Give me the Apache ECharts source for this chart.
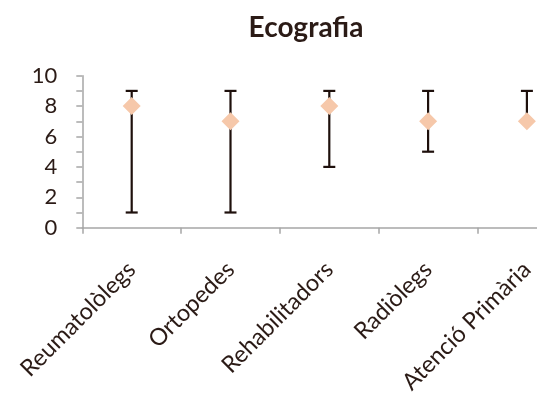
<!DOCTYPE html>
<html>
<head>
<meta charset="utf-8">
<script src="https://cdn.jsdelivr.net/npm/echarts@6/dist/echarts.min.js"></script>
<style>html,body{margin:0;padding:0;background:#fff;}#c{width:537px;height:400px;}</style>
</head>
<body>
<div id="c"></div>
<script>
var categories = ['Reumatolòlegs', 'Ortopedes', 'Rehabilitadors', 'Radiòlegs', 'Atenció Primària'];
var meanValues = [8, 7, 8, 7, 7];
var minValues = [1, 1, 4, 5, 7];
var maxValues = [9, 9, 9, 9, 9];
var yTicks = [0, 2, 4, 6, 8, 10];

var textColor = '#2b1b16';
var fontFam = 'Lato, "Open Sans", sans-serif';
var errData = categories.map(function (c, i) { return [i, minValues[i], maxValues[i]]; });

var chart = echarts.init(document.getElementById('c'));
chart.setOption({
  animation: false,
  title: {
    text: 'Ecografia', left: 301, top: 9, textAlign: 'center',
    textStyle: { fontFamily: fontFam, fontSize: 28, fontWeight: 'bold', color: textColor }
  },
  grid: { left: 82.3, top: 75.7, bottom: 172.3, right: -39.3, containLabel: false, outerBoundsMode: 'none' },
  xAxis: {
    type: 'category', data: categories, boundaryGap: true,
    axisLine: { lineStyle: { color: '#a6a6a6', width: 1.5 } },
    axisTick: { show: true, length: 6, lineStyle: { color: '#a6a6a6', width: 1.5 }, alignWithLabel: false },
    axisLabel: { rotate: 45, interval: 0, margin: 38, fontFamily: fontFam, fontSize: 23.5, color: textColor, hideOverlap: false }
  },
  yAxis: {
    type: 'value', min: 0, max: 10, interval: 1,
    splitLine: { show: false },
    axisLine: { show: true, lineStyle: { color: '#a6a6a6', width: 1.5 } },
    axisTick: { show: true, length: 6, lineStyle: { color: '#a6a6a6', width: 1.5 } },
    axisLabel: {
      margin: 25, fontFamily: fontFam, fontSize: 22, color: textColor,
      formatter: function (v) { return yTicks.indexOf(v) >= 0 ? String(v) : ''; }
    }
  },
  series: [
    {
      type: 'custom', data: errData, z: 2, clip: false,
      renderItem: function (params, api) {
        var x = api.value(0);
        var lo = api.coord([x, api.value(1)]);
        var hi = api.coord([x, api.value(2)]);
        var hw = 6;
        var st = { stroke: '#1e100c', lineWidth: 2.2 };
        return {
          type: 'group', children: [
            { type: 'line', shape: { x1: lo[0], y1: lo[1], x2: hi[0], y2: hi[1] }, style: st },
            { type: 'line', shape: { x1: lo[0] - hw, y1: lo[1], x2: lo[0] + hw, y2: lo[1] }, style: st },
            { type: 'line', shape: { x1: hi[0] - hw, y1: hi[1], x2: hi[0] + hw, y2: hi[1] }, style: st }
          ]
        };
      }
    },
    {
      type: 'scatter', data: meanValues, symbol: 'diamond', symbolSize: [18, 18], z: 3,
      itemStyle: { color: '#f6c8aa', opacity: 1 }
    }
  ]
});
</script>
</body>
</html>
